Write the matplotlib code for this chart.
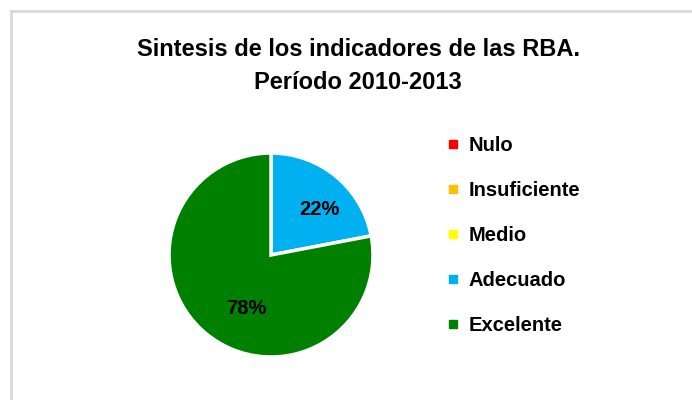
import matplotlib.pyplot as plt
from matplotlib.lines import Line2D

categorias = ['Nulo', 'Insuficiente', 'Medio', 'Adecuado', 'Excelente']
valores = [0, 0, 0, 22, 78]
colores = ['#FF0000', '#FFC000', '#FFFF00', '#00B0F0', '#008000']
titulo = 'Sintesis de los indicadores de las RBA.\nPeríodo 2010-2013'

plt.rcParams['font.family'] = ['Liberation Sans', 'DejaVu Sans']

fig = plt.figure(figsize=(6.92, 4.0), dpi=100, facecolor='white')

# marco gris (solo izquierda y arriba, como en el original)
fig.add_artist(Line2D([11.5/692, 11.5/692], [0, 1 - 10.5/400], color='#D9D9D9', lw=2))
fig.add_artist(Line2D([11.5/692, 1], [1 - 10.5/400, 1 - 10.5/400], color='#D9D9D9', lw=2))

fig.text(358/692, 1 - 66/400, titulo, ha='center', va='center',
         fontsize=17, fontweight='bold', linespacing=1.55)

ax = fig.add_axes([(271 - 103)/692, (400 - 358)/400, 206/692, 206/400])

def etiqueta(p):
    return '%d%%' % round(p) if p > 0 else ''

wedges, textos, pcts = ax.pie(valores, colors=colores, startangle=90, counterclock=False,
                              autopct=etiqueta, pctdistance=0.68,
                              wedgeprops=dict(edgecolor='white', linewidth=2.5))
for t in pcts:
    t.set_fontsize(14.5)
    t.set_fontweight('bold')
# ajuste de posición de etiquetas, como las coloca Excel
x, y = pcts[3].get_position()
pcts[3].set_position((x * 1.1, y * 0.85))
x, y = pcts[4].get_position()
pcts[4].set_position((x * 0.55, y))
ax.set_xlim(-1.01, 1.01)
ax.set_ylim(-1.01, 1.01)
ax.set_aspect('equal')

# leyenda
handles = [Line2D([], [], marker='s', linestyle='', markersize=6, color=c) for c in colores]
leg = fig.legend(handles, categorias, loc='upper left', bbox_to_anchor=(429/692, 1 - 117.5/400),
                 frameon=False, handlelength=0.6, handletextpad=0.45, labelspacing=1.3,
                 prop={'size': 14.5, 'weight': 'bold'})

plt.savefig('out.png', dpi=100, facecolor='white')
